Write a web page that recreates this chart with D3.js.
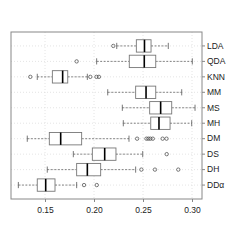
<!DOCTYPE html>
<meta charset="utf-8">
<style>
 body { margin: 0; background: white; }
 svg { display: block; }
 text { font-family: 'Liberation Sans', Arial, sans-serif; font-size: 8.5px; fill: #222; }
</style>
<svg width="240" height="240"></svg>
<script src="https://d3js.org/d3.v7.min.js"></script>
<script>
 // methods, top to bottom
 var methods = ['LDA', 'QDA', 'KNN', 'MM', 'MS', 'MH', 'DM', 'DS', 'DH', 'DD\u03b1'];
 // [whisker low, q1, median, q3, whisker high]
 var stats = [
     [0.2232, 0.2432, 0.2515, 0.2582, 0.2758],
     [0.2027, 0.2360, 0.2513, 0.2630, 0.3003],
     [0.1421, 0.1575, 0.1680, 0.1732, 0.1932],
     [0.2140, 0.2425, 0.2531, 0.2630, 0.2895],
     [0.2289, 0.2568, 0.2680, 0.2793, 0.3031],
     [0.2299, 0.2579, 0.2663, 0.2776, 0.2997],
     [0.1319, 0.1544, 0.1660, 0.1874, 0.2357],
     [0.1789, 0.1983, 0.2109, 0.2224, 0.2497],
     [0.1523, 0.1823, 0.1932, 0.2068, 0.2425],
     [0.1228, 0.1421, 0.1507, 0.1602, 0.1823]
 ];
 var outliers = [
     [0.2197],
     [0.1823],
     [0.1350, 0.1962, 0.2025, 0.2050],
     [],
     [],
     [],
     [0.2440, 0.2535, 0.2555, 0.2575, 0.2600, 0.2700, 0.2740],
     [0.2742],
     [0.2483, 0.2622, 0.2860],
     [0.1898, 0.2028]
 ];
 var xTicks = [0.15, 0.20, 0.25, 0.30];

 var svg = d3.select('svg');
 var pLeft = 11, pRight = 202, pTop = 32, pBottom = 199;

 var x = d3.scaleLinear().domain([0.1153, 0.3102]).range([pLeft, pRight]);
 var y = d3.scaleBand().domain(methods).range([pTop + 6.2, pBottom - 6.2]);
 var bw = y.bandwidth() * 0.8;
 function cy(m) { return y(m) + y.bandwidth() / 2; }

 // grid
 svg.append('g').selectAll('line').data(xTicks).join('line')
     .attr('x1', d => x(d)).attr('x2', d => x(d))
     .attr('y1', pTop).attr('y2', pBottom)
     .attr('stroke', '#ddd').attr('stroke-dasharray', '1,2').attr('stroke-width', 0.8);
 svg.append('g').selectAll('line').data(methods).join('line')
     .attr('x1', pLeft).attr('x2', pRight)
     .attr('y1', d => cy(d)).attr('y2', d => cy(d))
     .attr('stroke', '#ddd').attr('stroke-dasharray', '1,2').attr('stroke-width', 0.8);

 var rows = svg.append('g').selectAll('g').data(methods).join('g')
     .attr('transform', d => 'translate(0,' + cy(d) + ')');

 // whiskers
 rows.append('line')
     .attr('x1', (d, i) => x(stats[i][0])).attr('x2', (d, i) => x(stats[i][1]))
     .attr('stroke', '#555').attr('stroke-dasharray', '2,1.5').attr('stroke-width', 0.7);
 rows.append('line')
     .attr('x1', (d, i) => x(stats[i][3])).attr('x2', (d, i) => x(stats[i][4]))
     .attr('stroke', '#555').attr('stroke-dasharray', '2,1.5').attr('stroke-width', 0.7);
 [0, 4].forEach(function(k) {
     rows.append('line')
         .attr('x1', (d, i) => x(stats[i][k])).attr('x2', (d, i) => x(stats[i][k]))
         .attr('y1', -bw / 4).attr('y2', bw / 4)
         .attr('stroke', '#555').attr('stroke-width', 0.8);
 });

 // boxes
 rows.append('rect')
     .attr('x', (d, i) => x(stats[i][1]))
     .attr('width', (d, i) => x(stats[i][3]) - x(stats[i][1]))
     .attr('y', -bw / 2).attr('height', bw)
     .attr('fill', 'white').attr('stroke', '#777').attr('stroke-width', 0.9);
 rows.append('line')
     .attr('x1', (d, i) => x(stats[i][2])).attr('x2', (d, i) => x(stats[i][2]))
     .attr('y1', -bw / 2).attr('y2', bw / 2)
     .attr('stroke', '#000').attr('stroke-width', 1.6);

 // outliers
 rows.each(function(d, i) {
     d3.select(this).selectAll('circle').data(outliers[i]).join('circle')
         .attr('cx', v => x(v)).attr('r', 1.7)
         .attr('fill', 'none').attr('stroke', '#444').attr('stroke-width', 0.7);
 });

 // frame
 svg.append('rect')
     .attr('x', pLeft).attr('y', pTop)
     .attr('width', pRight - pLeft).attr('height', pBottom - pTop)
     .attr('fill', 'none').attr('stroke', '#888').attr('stroke-width', 1);

 // axes
 var xAxis = svg.append('g').attr('transform', 'translate(0,' + pBottom + ')')
     .call(d3.axisBottom(x).tickValues(xTicks).tickFormat(d3.format('.2f')).tickSize(3).tickPadding(5));
 var yAxis = svg.append('g').attr('transform', 'translate(' + pRight + ',0)')
     .call(d3.axisRight(y).tickSize(3).tickPadding(2));
 [xAxis, yAxis].forEach(function(a) {
     a.select('.domain').remove();
     a.selectAll('line').attr('stroke', '#888');
     a.selectAll('text').attr('font-family', null).attr('font-size', null).attr('fill', '#222');
 });
</script>
